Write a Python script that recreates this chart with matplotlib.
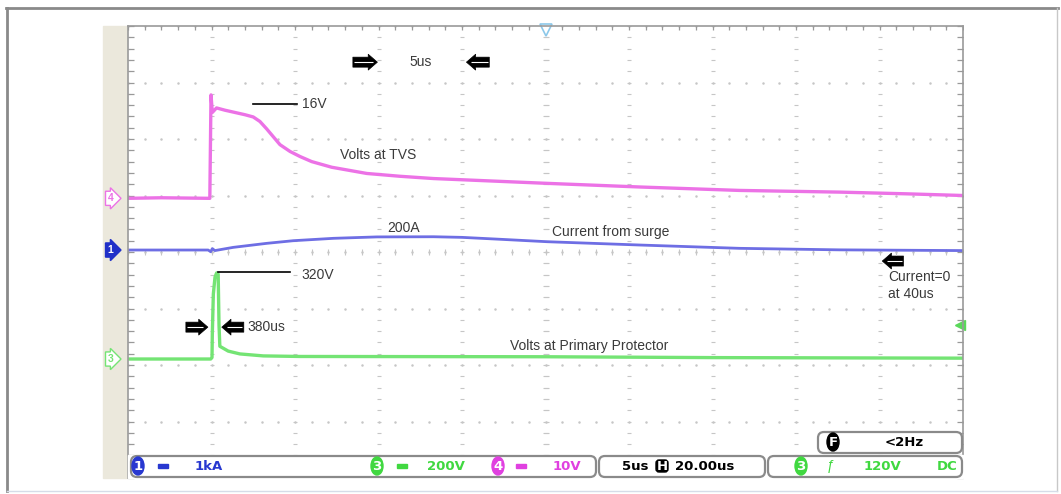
import matplotlib.pyplot as plt
from matplotlib.patches import FancyBboxPatch, Rectangle, Ellipse, FancyArrowPatch
import numpy as np

# scope settings
us_per_div = 5
tvs_v_per_div = 10
surge_a_per_div = 1000
prot_v_per_div = 200
trig_level_v = 120

# ground level of each channel, in divisions from bottom of screen
tvs_ground = 4.95
surge_ground = 4.035
prot_ground = 2.106

# ch4 - volts at TVS (us, V)
tvs_t = [0, 2.0, 4.9, 4.97, 5.05, 5.3, 5.8, 6.4, 7.0, 7.5, 7.9, 8.3, 8.7, 9.1, 9.7, 10.3,
         11.0, 12.2, 14.3, 16.3, 18.3, 22.3, 25.1, 30.7, 36.6, 42.6, 46.6, 50]
tvs_v = [0, 0.1, 0, 18.3, 15.2, 16.0, 15.6, 15.2, 14.8, 14.4, 13.6, 12.3, 10.9, 9.5, 8.3, 7.4,
         6.5, 5.5, 4.4, 3.9, 3.5, 3.0, 2.65, 2.0, 1.4, 1.1, 0.8, 0.5]

# ch1 - current from surge (us, A)
surge_t = [0, 4.8, 4.95, 5.05, 5.2, 6.3, 8.3, 9.9, 12.3, 14.9, 18.3, 20.0,
           22.3, 25.1, 30.7, 36.6, 42.6, 50]
surge_a = [0, 0, -30, 25, -10, 47, 118, 165, 207, 232, 235, 224,
           190, 147, 88, 30, 3, -10]

# ch3 - volts at primary protector (us, V)
prot_t = [0, 4.95, 5.03, 5.05, 5.11, 5.21, 5.31, 5.40, 5.45, 5.5, 6.0, 6.7,
          8.1, 10.3, 25, 35, 50]
prot_v = [0, 0, 5, 90, 230, 290, 305, 300, 120, 45, 28, 18,
          11, 9, 8, 5, 3]

W, H = 1061, 494
fig = plt.figure(figsize=(W / 100, H / 100), dpi=100)
fig.patch.set_facecolor('white')
plt.rcParams['font.family'] = ['Liberation Sans', 'DejaVu Sans']

# decoration layer in pixel coords
deco = fig.add_axes([0, 0, 1, 1], zorder=0)
deco.set_xlim(0, W)
deco.set_ylim(H, 0)
deco.axis('off')
deco.plot([6, 1058], [8, 8], color='#8a8a8a', lw=2)
deco.plot([7, 7], [8, 491], color='#8a8a8a', lw=2)
deco.plot([1057, 1057], [8, 491], color='#c8c8c8', lw=1)
deco.plot([7, 1057], [491, 491], color='#d6dce8', lw=1)
deco.add_patch(Rectangle((103, 26), 25, 452, color='#ebe8dc'))

# scope screen
ax = fig.add_axes([128 / W, 16 / H, 835 / W, 452 / H], zorder=1)
ax.set_xlim(0, 10 * us_per_div)
ax.set_ylim(0, 8)
ax.set_xticks([])
ax.set_yticks([])
for s in ax.spines.values():
    s.set_color('#9a9a9a')
    s.set_linewidth(1.2)
ax.spines['bottom'].set_visible(False)

gc = '#c6c6c6'
for i in range(11):
    ax.plot(np.full(41, i * us_per_div), np.arange(41) * 0.2, ls='none',
            marker='_', ms=3, mew=0.8, color=gc)
for j in range(9):
    ax.plot(np.arange(51) * 1.0, np.full(51, j), ls='none',
            marker='.', ms=1.6, color=gc)
ax.plot(np.full(41, 25), np.arange(41) * 0.2, ls='none', marker='_', ms=5, mew=0.8, color=gc)
ax.plot(np.arange(51) * 1.0, np.full(51, 4), ls='none', marker='|', ms=4, mew=0.8, color=gc)
ax.plot(np.full(41, 0.15), np.arange(41) * 0.2, ls='none', marker='_', ms=4, mew=0.9, color='#999999', clip_on=False)
ax.plot(np.full(41, 49.85), np.arange(41) * 0.2, ls='none', marker='_', ms=4, mew=0.9, color='#999999', clip_on=False)
ax.plot(np.arange(51) * 1.0, np.full(51, 7.97), ls='none', marker='|', ms=3, mew=0.9, color='#999999')

# traces
ax.plot(tvs_t, tvs_ground + np.array(tvs_v) / tvs_v_per_div,
        color='#ec72e6', lw=2.4, solid_joinstyle='round')
ax.plot(surge_t, surge_ground + np.array(surge_a) / surge_a_per_div,
        color='#6e6ee4', lw=2.0, solid_joinstyle='round')
ax.plot(prot_t, prot_ground + np.array(prot_v) / prot_v_per_div,
        color='#74e474', lw=2.4, solid_joinstyle='round')

# trigger markers
ax.plot([25], [7.93], marker='v', ms=8, mfc='white', mec='#8cc8ea', mew=1.2, clip_on=False)
ax.plot([49.8], [prot_ground + trig_level_v / prot_v_per_div], marker='<', ms=7,
        color='#5ad85a', clip_on=False)

# annotations
tc = '#3a3a3a'
fs = 10


def block_arrow(x0, x1, y):
    ax.add_patch(FancyArrowPatch((x0, y), (x1, y),
                                 arrowstyle='simple,head_length=0.55,head_width=0.95,tail_width=0.6',
                                 mutation_scale=12, fc='black', ec='black', lw=0.5))
    d = 1 if x1 > x0 else -1
    ax.plot([x0 + d * 0.25, x1 - d * 0.45], [y, y], color='white', lw=0.8, solid_capstyle='butt')


block_arrow(13.3, 15.1, 7.36)
block_arrow(21.8, 20.1, 7.36)
ax.text(17.5, 7.36, '5us', color=tc, fontsize=fs, ha='center', va='center')

ax.plot([7.5, 10.1], [6.62, 6.62], color='black', lw=1.2)
ax.text(10.4, 6.62, '16V', color=tc, fontsize=fs, va='center')
ax.text(12.7, 5.72, 'Volts at TVS', color=tc, fontsize=fs, va='center')

ax.text(16.5, 4.43, '200A', color=tc, fontsize=fs, ha='center', va='center')
ax.text(25.4, 4.36, 'Current from surge', color=tc, fontsize=fs, va='center')

block_arrow(46.6, 45.0, 3.84)
ax.text(45.5, 3.56, 'Current=0', color=tc, fontsize=fs, va='center')
ax.text(45.5, 3.25, 'at 40us', color=tc, fontsize=fs, va='center')

ax.plot([5.4, 9.7], [3.65, 3.65], color='black', lw=1.2)
ax.text(10.4, 3.60, '320V', color=tc, fontsize=fs, va='center')

block_arrow(3.3, 4.95, 2.67)
block_arrow(7.1, 5.45, 2.67)
ax.text(7.15, 2.67, '380us', color=tc, fontsize=fs, va='center')
ax.text(22.9, 2.34, 'Volts at Primary Protector', color=tc, fontsize=fs, va='center')

# channel ground markers on the left strip
for lab, gnd, fc, ec, col in [('4', tvs_ground, 'white', '#ec72e6', '#ec72e6'),
                              ('1', surge_ground, '#2030c8', '#2030c8', 'white'),
                              ('3', prot_ground, 'white', '#74e474', '#74e474')]:
    ax.text(-1.05, gnd, lab, color=col, fontsize=7.5, fontweight='bold', ha='center', va='center',
            bbox=dict(boxstyle='rarrow,pad=0.2', fc=fc, ec=ec, lw=1.0), clip_on=False)

# status bar
over = fig.add_axes([0, 0, 1, 1], zorder=2)
over.set_xlim(0, W)
over.set_ylim(H, 0)
over.axis('off')
over.add_patch(Rectangle((128, 455), 835, 23, color='white'))


def sbox(x, y, w, h):
    over.add_patch(FancyBboxPatch((x, y), w, h, boxstyle='round,pad=0,rounding_size=6',
                                  fc='white', ec='#8a8a8a', lw=1.6))


sbox(131, 456, 465, 21)
sbox(599, 456, 166, 21)
sbox(768, 456, 194, 21)
sbox(818, 432, 144, 21)

sb = dict(family='DejaVu Sans', fontsize=9.5, fontweight='bold', va='center')
blue, green, pink = '#2838d0', '#40d840', '#e040e0'


def badge(x, y, lab, col):
    over.add_patch(Ellipse((x, y), 12, 18, color=col))
    over.text(x, y, lab, color='white', ha='center', **sb)


def dc_mark(x, y, col):
    over.add_patch(Rectangle((x - 5, y - 2), 10, 4, color=col))


badge(138, 466, '1', blue)
dc_mark(163, 466, blue)
over.text(195, 466, '1kA', color=blue, **sb)
badge(377, 466, '3', green)
dc_mark(402, 466, green)
over.text(427, 466, '200V', color=green, **sb)
badge(498, 466, '4', pink)
dc_mark(521, 466, pink)
over.text(553, 466, '10V', color=pink, **sb)

over.text(622, 466, '5us', color='black', **sb)
over.add_patch(FancyBboxPatch((656, 460), 12, 12, boxstyle='round,pad=0,rounding_size=3', color='black'))
over.text(662, 466, 'H', color='white', ha='center', **sb)
over.text(675, 466, '20.00us', color='black', **sb)

badge(801, 466, '3', green)
over.text(831, 466, 'ƒ', color=green, ha='center', fontsize=10, va='center')
over.text(864, 466, '120V', color=green, **sb)
over.text(937, 466, 'DC', color=green, **sb)

badge(833, 442, 'F', 'black')
over.text(885, 442, '<2Hz', color='black', **sb)

fig.savefig('out.png', dpi=100)
